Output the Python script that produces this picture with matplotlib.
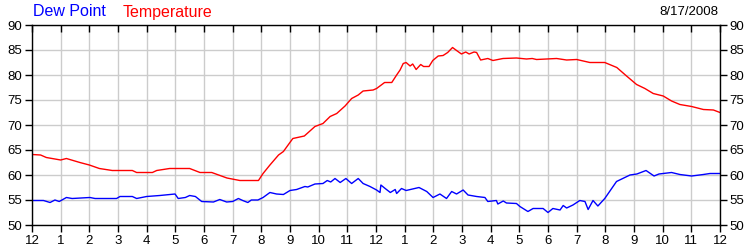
import matplotlib
matplotlib.use('Agg')
import matplotlib.pyplot as plt

plt.rcParams['font.family'] = ['Liberation Sans', 'DejaVu Sans']

# hours since midnight, temperature (F)
temp_hours = [0.0, 0.3, 0.5, 1.0, 1.2, 1.67, 2.0, 2.35, 2.8, 3.5, 3.65, 4.2, 4.35, 4.8,
              5.5, 5.86, 6.27, 6.8, 7.25, 7.9, 8.06, 8.3, 8.6, 8.77, 9.06, 9.1, 9.5,
              9.87, 10.15, 10.4, 10.63, 10.92, 11.15, 11.38, 11.55, 11.9, 12.02, 12.3,
              12.55, 12.72, 12.84, 12.95, 13.05, 13.19, 13.28, 13.4, 13.56, 13.66, 13.85,
              13.98, 14.17, 14.34, 14.5, 14.67, 14.81, 14.98, 15.13, 15.25, 15.42, 15.51,
              15.65, 15.9, 16.08, 16.43, 16.9, 17.25, 17.45, 17.6, 18.3, 18.65, 19.0,
              19.46, 19.98, 20.4, 20.74, 21.09, 21.38, 21.67, 22.02, 22.31, 22.6, 23.01,
              23.42, 23.77, 24.0]
temperature = [64.1, 64.0, 63.5, 63.0, 63.3, 62.5, 62.0, 61.3, 60.9, 60.9, 60.5, 60.5, 60.9,
               61.3, 61.3, 60.5, 60.5, 59.4, 58.9, 58.9, 60.3, 62.0, 64.0, 64.7, 67.0, 67.3,
               67.8, 69.7, 70.3, 71.7, 72.3, 73.8, 75.3, 76.0, 76.8, 77.0, 77.3, 78.5,
               78.5, 80.0, 81.0, 82.3, 82.5, 81.8, 82.2, 81.1, 82.1, 81.7, 81.7,
               82.9, 83.8, 83.9, 84.5, 85.5, 84.9, 84.2, 84.6, 84.2, 84.6, 84.5,
               83.0, 83.3, 82.9, 83.3, 83.4, 83.2, 83.3, 83.1, 83.3, 83.0, 83.1,
               82.5, 82.5, 81.5, 79.8, 78.1, 77.3, 76.3, 75.8, 74.8, 74.1, 73.7,
               73.1, 73.0, 72.5]

# hours since midnight, dew point (F)
dew_hours = [0.0, 0.4, 0.63, 0.8, 0.95, 1.2, 1.4, 2.02, 2.2, 2.95, 3.07, 3.5, 3.65, 4.0,
             4.46, 4.99, 5.1, 5.35, 5.5, 5.7, 5.92, 6.33, 6.55, 6.79, 7.0, 7.2, 7.35,
             7.53, 7.65, 7.88, 8.06, 8.3, 8.53, 8.77, 9.0, 9.23, 9.52, 9.62, 9.87,
             10.15, 10.3, 10.42, 10.57, 10.75, 10.95, 11.15, 11.38, 11.55, 11.79, 12.02,
             12.14, 12.17, 12.32, 12.5, 12.67, 12.72, 12.89, 13.05, 13.5, 13.77, 13.99,
             14.23, 14.46, 14.64, 14.81, 15.04, 15.21, 15.51, 15.8, 15.9, 16.2, 16.25,
             16.44, 16.55, 16.9, 17.02, 17.3, 17.48, 17.83, 18.0, 18.17, 18.42, 18.53,
             18.65, 18.87, 19.11, 19.29, 19.4, 19.57, 19.74, 19.98, 20.39, 20.86, 21.1,
             21.42, 21.7, 21.87, 22.31, 22.6, 23.01, 23.42, 23.65, 24.0]
dew_point = [54.9, 54.9, 54.5, 55.0, 54.7, 55.5, 55.3, 55.5, 55.3, 55.3, 55.7, 55.7, 55.3,
             55.7, 55.9, 56.2, 55.3, 55.5, 55.9, 55.7, 54.7, 54.6, 55.1, 54.6, 54.7,
             55.3, 54.9, 54.5, 55.0, 55.0, 55.5, 56.5, 56.2, 56.1, 56.9, 57.1, 57.7,
             57.6, 58.2, 58.3, 58.9, 58.6, 59.3, 58.5, 59.3, 58.3, 59.3, 58.3, 57.7,
             57.0, 56.5, 58.0, 57.3, 56.5, 57.1, 56.3, 57.3, 56.9, 57.5, 56.7, 55.5,
             56.2, 55.3, 56.7, 56.2, 57.0, 56.0, 55.7, 55.5, 54.7, 54.9, 54.2, 54.8,
             54.4, 54.3, 53.7, 52.7, 53.3, 53.3, 52.5, 53.3, 53.0, 53.9, 53.4, 54.0,
             54.9, 54.7, 53.1, 54.9, 53.8, 55.3, 58.7, 60.0, 60.2, 60.9, 59.8, 60.2,
             60.5, 60.1, 59.8, 60.1, 60.3, 60.3]

x_ticks = list(range(25))
x_labels = ['12', '1', '2', '3', '4', '5', '6', '7', '8', '9', '10', '11',
            '12', '1', '2', '3', '4', '5', '6', '7', '8', '9', '10', '11', '12']
y_ticks = [50, 55, 60, 65, 70, 75, 80, 85, 90]

fig = plt.figure(figsize=(7.5, 2.5), dpi=100)
ax = fig.add_axes([32 / 750, 25 / 250, 688 / 750, 200 / 250])

ax.plot(temp_hours, temperature, color='#ff0000', lw=1.0)
ax.plot(dew_hours, dew_point, color='#0000ff', lw=1.0)

ax.set_xlim(0, 24)
ax.set_ylim(50, 90)
ax.set_xticks(x_ticks)
ax.set_xticklabels(x_labels)
ax.set_yticks(y_ticks)
ax.grid(True, color='#cccccc', lw=1.0)
ax.set_axisbelow(True)

for s in ax.spines.values():
    s.set_color('black')
    s.set_linewidth(1.0)

ax.tick_params(axis='x', which='both', direction='out', length=5, width=1,
               labelsize=9.5, pad=2, top=False)
ax.tick_params(axis='y', direction='out', length=5, width=1, labelsize=9.5,
               pad=2, left=True, right=True, labelleft=True, labelright=True)

# top ticks point inward (separate twin axis drawn on top)
ax_top = ax.twiny()
ax_top.set_xlim(0, 24)
ax_top.set_xticks(x_ticks)
ax_top.tick_params(axis='x', direction='in', length=5, width=1, color='black',
                   labeltop=False, top=True, bottom=False, labelbottom=False)
for s in ax_top.spines.values():
    s.set_visible(False)

fig.text(33 / 750, 1 - 12 / 250, 'Dew Point', color='#0000ff', fontsize=11.5,
         va='center', ha='left')
fig.text(123 / 750, 1 - 12 / 250, 'Temperature', color='#ff0000', fontsize=11.5,
         va='center', ha='left')
fig.text(718 / 750, 1 - 12 / 250, '8/17/2008', color='black', fontsize=9.5,
         va='center', ha='right')

fig.savefig('out.png', dpi=100)
